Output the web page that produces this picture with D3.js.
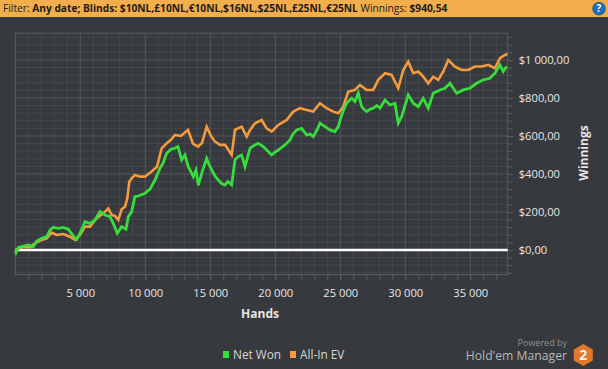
<!DOCTYPE html>
<html>
<head>
<meta charset="utf-8">
<script src="https://cdn.jsdelivr.net/npm/d3@7"></script>
<style>
  body { margin: 0; background: #36393d; }
  svg { display: block; font-family: "Open Sans", "Noto Sans", sans-serif; }
</style>
</head>
<body>
<div id="chart"></div>
<script>
var width = 608,
    height = 369;

// Net Won: hands / winnings
var netHands = [0, 54, 231, 615, 1000, 1385, 1646, 2031, 2415, 2669, 2923, 3308, 3692, 4077, 4461, 4723, 4977,
    5361, 5746, 6131, 6515, 6900, 7284, 7538, 7846, 8184, 8515, 8692, 8953, 9207, 9461, 9977, 10361, 10746,
    11131, 11361, 11646, 11977, 12284, 12515, 12800, 13054, 13308, 13692, 13900, 14077, 14338, 14515, 14723,
    14900, 15107, 15361, 15615, 15861, 16130, 16361, 16646, 16900, 17130, 17415, 17669, 18053, 18361, 18692,
    19076, 19338, 19723, 19977, 20230, 20746, 21130, 21361, 21646, 22030, 22415, 22669, 22923, 23207, 23438,
    23823, 24207, 24592, 24846, 25107, 25284, 25492, 25876, 26130, 26384, 26646, 26823, 27030, 27284, 27538,
    27823, 28053, 28438, 28823, 29207, 29461, 29723, 29976, 30230, 30615, 31000, 31384, 31769, 32153, 32669,
    33053, 33438, 33953, 34461, 34976, 35492, 36000, 36515, 36900, 37284, 37538, 37800];
var netWon = [-5, -14, 14, 21, 26, 17, 47, 61, 70, 105, 119, 114, 119, 109, 74, 56, 88,
    149, 140, 158, 202, 184, 175, 140, 88, 123, 109, 175, 202, 281, 284, 298, 320, 368,
    430, 456, 509, 530, 535, 544, 474, 500, 438, 386, 420, 340, 403, 440, 482,
    450, 421, 390, 368, 350, 342, 360, 342, 474, 490, 500, 438, 535, 550, 561,
    544, 526, 500, 515, 526, 553, 579, 610, 632, 640, 605, 610, 596, 630, 667,
    649, 632, 623, 649, 711, 740, 772, 798, 781, 825, 754, 740, 728, 740, 746,
    760, 746, 789, 763, 772, 667, 702, 760, 816, 772, 754, 798, 746, 825, 842,
    851, 877, 825, 842, 851, 877, 895, 903, 930, 974, 939, 965];

// All-In EV: hands / winnings
var evHands = [0, 200, 615, 1130, 1515, 2031, 2415, 2800, 3185, 3692, 4208, 4592, 4977, 5361, 5746, 6261,
    6769, 7154, 7415, 7669, 7923, 8184, 8438, 8615, 8769, 8953, 9207, 9592, 9977, 10438, 10900, 11261, 11669,
    11977, 12284, 12746, 13284, 13669, 14053, 14361, 14723, 15054, 15361, 15746, 16130, 16361, 16646, 16900,
    17415, 17800, 18053, 18438, 18953, 19338, 19723, 20230, 20876, 21384, 21900, 22415, 22923, 23438, 23953,
    24461, 24846, 25230, 25615, 26130, 26515, 27030, 27538, 27923, 28438, 28953, 29461, 29846, 30230, 30615,
    31000, 31384, 31769, 32153, 32538, 32923, 33307, 33823, 34338, 34846, 35361, 35876, 36384, 36900, 37284,
    37669, 37860];
var evWon = [0, 5, 17, 14, 35, 53, 61, 91, 79, 84, 70, 53, 79, 123, 123, 167,
    193, 219, 184, 179, 158, 214, 228, 272, 359, 377, 395, 386, 386, 410, 438, 535, 563,
    580, 605, 600, 632, 560, 544, 563, 649, 600, 570, 553, 553, 530, 500, 632,
    649, 596, 630, 667, 684, 640, 623, 658, 684, 728, 746, 737, 728, 772, 746,
    728, 719, 754, 833, 842, 868, 842, 842, 895, 930, 921, 851, 947, 991, 930,
    939, 912, 877, 912, 895, 939, 1000, 965, 947, 947, 965, 965, 974, 956, 1009,
    1026, 1031];

var xTicks = [5000, 10000, 15000, 20000, 25000, 30000, 35000];
var yTicks = [0, 200, 400, 600, 800, 1000];
var legendNames = ['Net Won', 'All-In EV'];
var legendColors = ['#36dd3c', '#f59a3e'];

var locale = d3.formatLocale({ decimal: ',', thousands: ' ', grouping: [3], currency: ['$', ''] });
var fmtMoney = locale.format('$,.2f');
var fmtHands = locale.format(',d');

var plot = { left: 15.3, right: 507.7, top: 33.3, bottom: 274.7 };

var svg = d3.select('#chart').append('svg')
    .attr('width', width)
    .attr('height', height);

svg.append('rect').attr('width', width).attr('height', height).attr('fill', '#36393d');

// header bar
svg.append('rect').attr('width', width).attr('height', 17).attr('fill', '#f2ad4c');
var header = svg.append('text').attr('x', 3).attr('y', 12.3)
    .attr('font-size', 10.2).attr('fill', '#1c1c1c');
header.append('tspan').text('Filter: ');
header.append('tspan').attr('font-weight', 'bold').text('Any date; Blinds: $10NL,£10NL,€10NL,$16NL,$25NL,£25NL,€25NL');
header.append('tspan').text(' Winnings: ');
header.append('tspan').attr('font-weight', 'bold').text('$940,54');

svg.append('circle').attr('cx', 599).attr('cy', 8.7).attr('r', 6.3)
    .attr('fill', '#1f6db5').attr('stroke', '#0f4f8c').attr('stroke-width', 0.8);
svg.append('text').attr('x', 599).attr('y', 12.3).attr('text-anchor', 'middle')
    .attr('font-size', 10).attr('font-weight', 'bold').attr('fill', '#fff').text('?');

var x = d3.scaleLinear().domain([0, 37880]).range([plot.left, plot.right]);
var y = d3.scaleLinear().domain([-130, 1140]).range([plot.bottom, plot.top]);

// minor grid
svg.append('g').selectAll('line')
    .data(d3.range(1000, 37880, 1000).filter(function(d) { return d % 5000 !== 0; }))
    .enter().append('line')
    .attr('x1', function(d) { return x(d); }).attr('x2', function(d) { return x(d); })
    .attr('y1', plot.top).attr('y2', plot.bottom)
    .attr('stroke', '#45484c').attr('stroke-width', 1);
svg.append('g').selectAll('line')
    .data(d3.range(-120, 1140, 40).filter(function(d) { return d % 200 !== 0; }))
    .enter().append('line')
    .attr('x1', plot.left).attr('x2', plot.right)
    .attr('y1', function(d) { return y(d); }).attr('y2', function(d) { return y(d); })
    .attr('stroke', '#45484c').attr('stroke-width', 1);

// major grid
svg.append('g').selectAll('line')
    .data(xTicks)
    .enter().append('line')
    .attr('x1', function(d) { return x(d); }).attr('x2', function(d) { return x(d); })
    .attr('y1', plot.top).attr('y2', plot.bottom)
    .attr('stroke', '#55585c').attr('stroke-width', 1);
svg.append('g').selectAll('line')
    .data(yTicks.filter(function(d) { return d !== 0; }))
    .enter().append('line')
    .attr('x1', plot.left).attr('x2', plot.right)
    .attr('y1', function(d) { return y(d); }).attr('y2', function(d) { return y(d); })
    .attr('stroke', '#55585c').attr('stroke-width', 1);

svg.append('rect')
    .attr('x', plot.left).attr('y', plot.top)
    .attr('width', plot.right - plot.left).attr('height', plot.bottom - plot.top)
    .attr('fill', 'none').attr('stroke', '#5a5d61').attr('stroke-width', 1);

// x axis (bottom)
var xAxis = svg.append('g')
    .attr('transform', 'translate(0,' + plot.bottom + ')')
    .call(d3.axisBottom(x).tickValues(xTicks).tickFormat(fmtHands).tickSize(5).tickPadding(9));
svg.append('g')
    .attr('transform', 'translate(0,' + plot.bottom + ')')
    .call(d3.axisBottom(x).tickValues(d3.range(1000, 37880, 1000)).tickFormat('').tickSize(5))
    .select('.domain').remove();
xAxis.select('.domain').remove();

// y axis (right)
var yAxis = svg.append('g')
    .attr('transform', 'translate(' + plot.right + ',0)')
    .call(d3.axisRight(y).tickValues(yTicks).tickFormat(fmtMoney).tickSize(5).tickPadding(6));
svg.append('g')
    .attr('transform', 'translate(' + plot.right + ',0)')
    .call(d3.axisRight(y).tickValues(d3.range(-120, 1140, 40)).tickFormat('').tickSize(5))
    .select('.domain').remove();
yAxis.select('.domain').remove();

svg.selectAll('.tick line').attr('stroke', '#5a5d61');
svg.selectAll('.tick text')
    .attr('fill', '#e6e6e6')
    .attr('font-size', 11.2)
    .attr('font-family', '"Open Sans", "Noto Sans", sans-serif');

svg.append('text')
    .attr('x', 260).attr('y', 318)
    .attr('text-anchor', 'middle')
    .attr('font-size', 12).attr('font-weight', 'bold').attr('fill', '#e6e6e6')
    .text('Hands');

svg.append('text')
    .attr('transform', 'translate(588,153) rotate(-90)')
    .attr('text-anchor', 'middle')
    .attr('font-size', 12).attr('font-weight', 'bold').attr('fill', '#e6e6e6')
    .text('Winnings');

// zero line
svg.append('line')
    .attr('x1', plot.left).attr('x2', plot.right)
    .attr('y1', y(0)).attr('y2', y(0))
    .attr('stroke', '#ffffff').attr('stroke-width', 2.5);

var line = d3.line()
    .x(function(d) { return x(d[0]); })
    .y(function(d) { return y(d[1]); });

var evData = d3.zip(evHands, evWon);
var netData = d3.zip(netHands, netWon);

svg.append('path')
    .datum(evData)
    .attr('d', line)
    .attr('fill', 'none')
    .attr('stroke', legendColors[1])
    .attr('stroke-width', 2.6)
    .attr('stroke-linejoin', 'miter');

svg.append('path')
    .datum(netData)
    .attr('d', line)
    .attr('fill', 'none')
    .attr('stroke', legendColors[0])
    .attr('stroke-width', 2.8)
    .attr('stroke-linejoin', 'miter');

// legend
var legend = svg.append('g').selectAll('g')
    .data(legendNames)
    .enter().append('g')
    .attr('transform', function(d, i) { return 'translate(' + (223 + i * 67) + ',0)'; });
legend.append('rect')
    .attr('x', 0).attr('y', 351).attr('width', 6).attr('height', 7)
    .attr('fill', function(d, i) { return legendColors[i]; });
legend.append('text')
    .attr('x', 10).attr('y', 359)
    .attr('font-size', 11.8).attr('fill', '#d8d8d8')
    .text(function(d) { return d; });

// powered by
svg.append('text')
    .attr('x', 567).attr('y', 345.5).attr('text-anchor', 'end')
    .attr('font-size', 9).attr('fill', '#8e9194')
    .text('Powered by');
svg.append('text')
    .attr('x', 567).attr('y', 360).attr('text-anchor', 'end')
    .attr('font-size', 12.2).attr('fill', '#b4b7ba')
    .text("Hold'em Manager");

var hexR = 11;
var hex = d3.range(6).map(function(i) {
    var a = Math.PI / 3 * i - Math.PI / 2;
    return [583.3 + hexR * Math.cos(a), 355 + hexR * Math.sin(a)];
});
svg.append('path')
    .attr('d', 'M' + hex.join('L') + 'Z')
    .attr('fill', '#e2782c');
svg.append('text')
    .attr('x', 583.3).attr('y', 360)
    .attr('text-anchor', 'middle')
    .attr('font-size', 14).attr('font-weight', 'bold').attr('fill', '#f4f4f4')
    .text('2');
</script>
</body>
</html>
